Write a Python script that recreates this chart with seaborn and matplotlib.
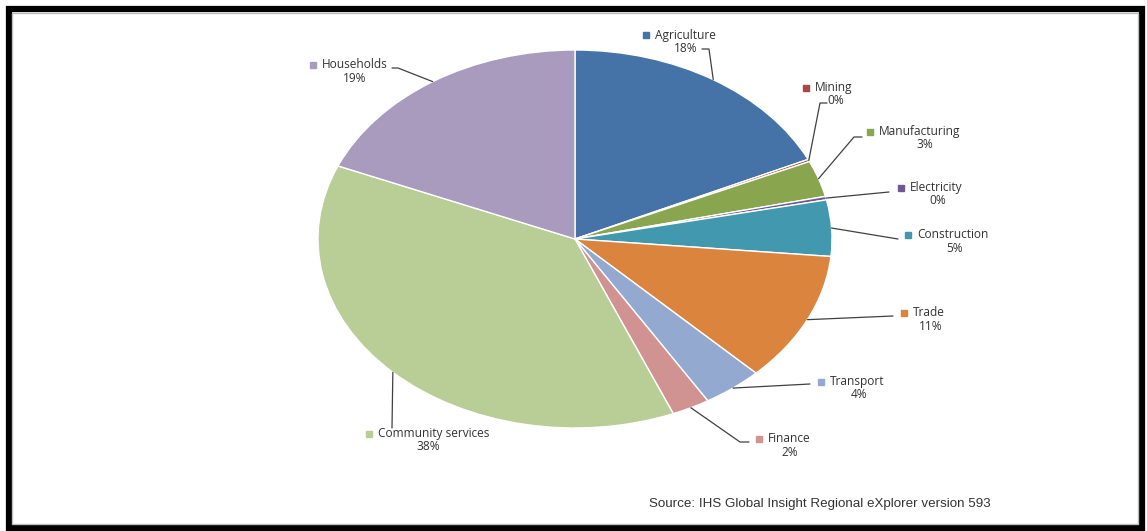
import numpy as np
import matplotlib
matplotlib.use("Agg")
import matplotlib.pyplot as plt
import seaborn as sns
from matplotlib.patches import Rectangle

# data
sectors = ["Agriculture", "Mining", "Manufacturing", "Electricity", "Construction",
           "Trade", "Transport", "Finance", "Community services", "Households"]
shares = [18.1, 0.2, 3.1, 0.3, 4.8, 11.1, 3.8, 2.4, 37.6, 18.7]
colors = ["#4572A7", "#AA4643", "#89A54E", "#71588F", "#4198AF",
          "#DB843D", "#93A9CF", "#D19392", "#B9CD96", "#A99BBD"]
source = "Source: IHS Global Insight Regional eXplorer version 593"

sns.set_theme(style="white")
plt.rcParams['font.family'] = ['Open Sans', 'DejaVu Sans']
pal = sns.color_palette(colors)

W, H = 1147, 531
fig = plt.figure(figsize=(W / 100, H / 100), dpi=100)
fig.patch.set_facecolor("white")

# frame around the picture
fig.patches.append(Rectangle((8.5 / W, 3 / H), (1141.5 - 8.5) / W, (522 - 3) / H,
                             transform=fig.transFigure, fill=False,
                             edgecolor="black", linewidth=4.5, zorder=0))
fig.patches.append(Rectangle((12 / W, 7 / H), (1138 - 12) / W, (518 - 7) / H,
                             transform=fig.transFigure, fill=False,
                             edgecolor="#bdbdbd", linewidth=1.0, zorder=0))

# ellipse-shaped pie: axes box of 514 x 378 px, centre at (575, 239)
cx, cy, rx, ry = 575, 239, 257, 189
ax = fig.add_axes([(cx - rx) / W, (H - cy - ry) / H, 2 * rx / W, 2 * ry / H])
wedges, _ = ax.pie(shares, colors=pal, startangle=90, counterclock=False,
                   wedgeprops=dict(edgecolor="white", linewidth=1.0))
ax.set_xlim(-1, 1)
ax.set_ylim(-1, 1)
ax.set_aspect("auto")
ax.axis("off")


def px(x, y):
    return (x - cx) / rx, (cy - y) / ry


# label layout in pixels: square x, name y, percent centre x, leader path
layout = {
    "Agriculture": (646, 35, 686, [(709, 49), (702, 49)]),
    "Mining": (806, 88, 836, [(820, 103), (827, 103)]),
    "Manufacturing": (870, 132, 925, [(854, 137), (862, 137)]),
    "Electricity": (901, 188, 938, [(889, 192)]),
    "Construction": (908, 235, 955, [(898, 239)]),
    "Trade": (904, 313, 931, [(893, 316)]),
    "Transport": (821, 382, 859, [(810, 384)]),
    "Finance": (759, 439, 790, [(740, 442), (749, 442)]),
    "Community services": (369, 434, 428, [(392, 428)]),
    "Households": (313, 65, 355, [(398, 68), (392, 68)]),
}

for w, name, val, col in zip(wedges, sectors, shares, pal):
    sq_x, ty, pct_x, path = layout[name]
    mid = np.deg2rad((w.theta1 + w.theta2) / 2)
    xs = [np.cos(mid)] + [px(*p)[0] for p in path]
    ys = [np.sin(mid)] + [px(*p)[1] for p in path]
    ax.plot(xs, ys, color="#404040", lw=0.9, clip_on=False)
    sx, sy = px(sq_x, ty)
    ax.plot([sx], [sy], marker="s", ms=4, color=col, clip_on=False)
    nx, _ = px(sq_x + 9, ty)
    ax.text(nx, sy, name, ha="left", va="center", fontsize=8.6,
            color="#333333", clip_on=False)
    qx, qy = px(pct_x, ty + 13)
    ax.text(qx, qy, f"{val:.0f}%", ha="center", va="center", fontsize=8.6,
            color="#333333", clip_on=False)

fig.text(649 / W, 1 - 504 / H, source, ha="left", va="center", fontsize=9.6,
         family=["Liberation Sans", "DejaVu Sans"], color="#333333")

fig.savefig("out.png", dpi=100)
